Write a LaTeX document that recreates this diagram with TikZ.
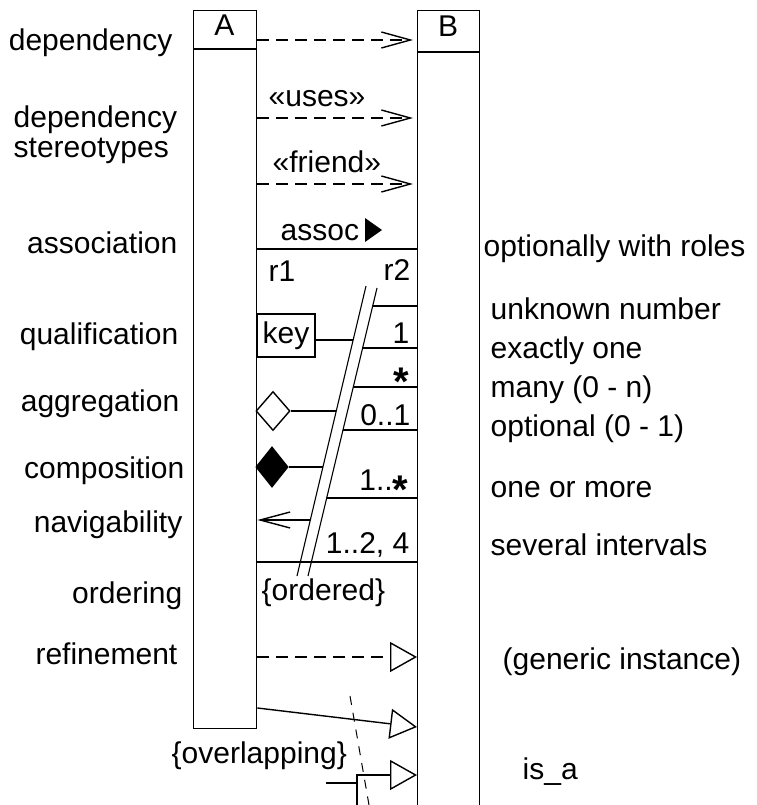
\documentclass[tikz,border=0pt]{standalone}
\usepackage{fontspec}
\setmainfont{Liberation Sans}
\usetikzlibrary{arrows.meta,shapes.geometric}
\newcommand\lab{\fontsize{30}{34}\selectfont}
\newcommand\mulstar{\raisebox{-13pt}{\fontsize{40}{40}\selectfont\bfseries *}}
\begin{document}
\begin{tikzpicture}[x=1pt,y=-1pt,line width=1.4pt,font=\lab,
  every node/.style={font=\lab,inner sep=0pt},
  dep/.style={dash pattern=on 12pt off 7pt,-{Straight Barb[length=29pt,width=16pt]},shorten >=4pt},
  gen/.style={-{Triangle[open,length=27pt,width=30pt]}},
  dashd/.style={dash pattern=on 12pt off 7pt},
  thinl/.style={line width=1.1pt},
  lft/.style={anchor=base east},
  rgt/.style={anchor=base west},
  mult/.style={anchor=base east}]
\useasboundingbox (0,0) rectangle (756,805);
% classes
\node[draw,anchor=north west,minimum width=63pt,minimum height=718pt] (A) at (193,10) {};
\draw (A.west |- 0,49) -- (A.east |- 0,49);
\node[anchor=base] (Alab) at (224.5,35.5) {A};
\node[draw,anchor=north west,minimum width=62pt,minimum height=810pt] (B) at (417,10) {};
\draw (B.west |- 0,52) -- (B.east |- 0,52);
\node[anchor=base] (Blab) at (448,37) {B};
% left labels
\node[lft] (l1) at (173,51) {dependency};
\node[rgt] (l2) at (13,128) {dependency};
\node[rgt] (l3) at (13,158) {stereotypes};
\node[lft] (l4) at (178,253) {association};
\node[lft] (l5) at (179,344) {qualification};
\node[lft] (l6) at (180,411) {aggregation};
\node[lft] (l7) at (185,478) {composition};
\node[lft] (l8) at (183,532) {navigability};
\node[lft] (l9) at (183,603) {ordering};
\node[lft] (l10) at (178,664) {refinement};
% right labels
\node[rgt] (r1l) at (483,256) {optionally with roles};
\node[rgt] (r2l) at (490,319) {unknown number};
\node[rgt] (r3l) at (490,358) {exactly one};
\node[rgt] (r4l) at (490,397) {many (0 - n)};
\node[rgt] (r5l) at (490,436) {optional (0 - 1)};
\node[rgt] (r6l) at (490,497) {one or more};
\node[rgt] (r7l) at (490,555) {several intervals};
\node[rgt] (r8l) at (502,669) {(generic instance)};
\node[rgt] (r9l) at (522,779) {is\_a};
% dependencies
\draw[dep] (A.east |- 0,40) -- (B.west |- 0,40);
\node[rgt] (uses) at (268,107) {«uses»};
\draw[dep] (A.east |- 0,118) -- (B.west |- 0,118);
\node[rgt] (friend) at (272,173) {«friend»};
\draw[dep] (A.east |- 0,184) -- (B.west |- 0,184);
% association
\node[rgt] (assoc) at (280,240) {assoc};
\fill (365,218) -- (382,230) -- (365,242) -- cycle;
\draw (A.east |- 0,249) -- (B.west |- 0,249);
\node[rgt] (role1) at (268,281) {r1};
\node[lft] (role2) at (411,280) {r2};
% ordered double line
\coordinate (L1) at (366,286);
\coordinate (L2) at (297,576);
\coordinate (R1) at (377,288);
\coordinate (R2) at (308,576);
\draw[thinl] (L1) -- (L2) (R1) -- (R2);
% multiplicities
\draw (372.7,306) -- (B.west |- 0,306);
\node[mult] (m1) at (410,343) {1};
\draw (362.6,348) -- (B.west |- 0,348);
\node[mult] (m2) at (410,382) {\mulstar};
\draw (353.3,387) -- (B.west |- 0,387);
\node[mult] (m3) at (411,425) {0..1};
\draw (343,430) -- (B.west |- 0,430);
\node[mult] (m4) at (409,490) {1..\mulstar};
\draw (326.7,498) -- (B.west |- 0,498);
\node[mult] (m5) at (410,553) {1..2, 4};
\draw (A.east |- 0,562) -- (B.west |- 0,562);
% qualification
\node[draw,minimum width=58pt,minimum height=43pt] (key) at (286,335.5) {key};
\draw (key.east |- 0,340) -- (353.2,340);
% aggregation / composition
\node[diamond,draw,fill=white,minimum width=34pt,minimum height=39pt] (agg) at (273,411) {};
\draw (agg.east) -- (336.3,411);
\node[diamond,draw,fill=black,minimum width=32pt,minimum height=40pt] (comp) at (272,467) {};
\draw (comp.east) -- (322.9,467);
% navigability
\draw[-{Straight Barb[length=30pt,width=16pt]}] (310.3,520) -- (A.east |- 0,520);
\node[rgt] (ord) at (261,600) {\{ordered\}};
% refinement
\draw[dashd,gen] (A.east |- 0,657) -- (B.west |- 0,657);
% generalization
\draw[gen] (A.east |- 0,708) -- (B.west |- 0,727);
\draw[gen] (357,805) -- (357,775) -- (B.west |- 0,775);
\draw (326,783) -- (357,783);
\draw[line width=1pt,dash pattern=on 9pt off 8pt] (350,696) -- (369,805);
\node[rgt] (ovl) at (171,763) {\{overlapping\}};
\end{tikzpicture}
\end{document}
